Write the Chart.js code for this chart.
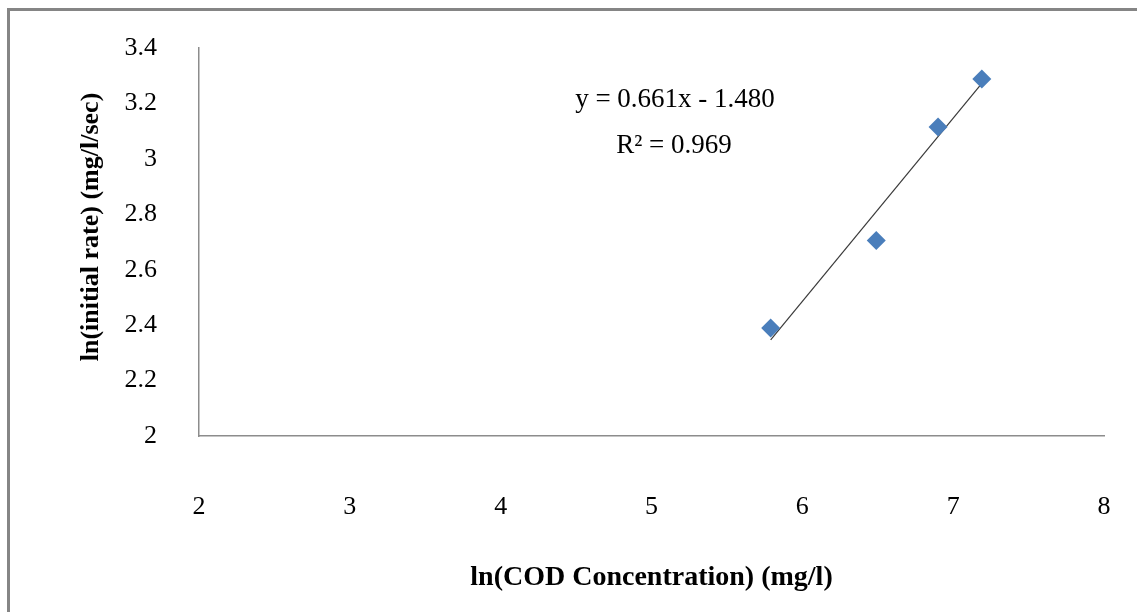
<!DOCTYPE html>
<html>
<head>
<meta charset="utf-8">
<script src="https://cdn.jsdelivr.net/npm/chart.js@4"></script>
<style>
  html, body { margin: 0; padding: 0; background: #ffffff; }
  #wrap { width: 1137px; height: 612px; position: relative; }
</style>
</head>
<body>
<div id="wrap"><canvas id="chart" width="1137" height="612"></canvas></div>
<script>
// Measured points: ln(COD concentration) vs ln(initial rate)
const lnCOD = [5.79, 6.49, 6.90, 7.19];
const lnRate = [2.39, 2.705, 3.115, 3.288];

// Linear fit reported on the chart
const fitSlope = 0.661;
const fitIntercept = -1.480;
const fitR2 = 0.969;

const xTicks = [2, 3, 4, 5, 6, 7, 8];
const yTicks = [2, 2.2, 2.4, 2.6, 2.8, 3, 3.2, 3.4];

const xTitle = 'ln(COD Concentration) (mg/l)';
const yTitle = 'ln(initial rate) (mg/l/sec)';

const points = lnCOD.map((x, i) => ({ x: x, y: lnRate[i] }));
const fitEnds = [lnCOD[0], lnCOD[lnCOD.length - 1]];
const fitLine = fitEnds.map(x => ({ x: x, y: fitSlope * x + fitIntercept }));

const eqText = 'y = ' + fitSlope.toFixed(3) + 'x - ' + Math.abs(fitIntercept).toFixed(3);
const r2Text = 'R\u00B2 = ' + fitR2.toFixed(3);

const serif = '"Liberation Serif", "Times New Roman", serif';
const fmt = v => String(Math.round(v * 10) / 10);

// Outer frame (top and left edges) plus white background
const framePlugin = {
  id: 'frame',
  beforeDraw(chart) {
    const ctx = chart.ctx;
    ctx.save();
    ctx.fillStyle = '#ffffff';
    ctx.fillRect(0, 0, chart.width, chart.height);
    ctx.strokeStyle = '#858585';
    ctx.lineWidth = 3;
    ctx.beginPath();
    ctx.moveTo(8.5, chart.height);
    ctx.lineTo(8.5, 9.5);
    ctx.lineTo(chart.width, 9.5);
    ctx.stroke();
    ctx.restore();
  }
};

// Regression equation text and the vertical axis title
const textPlugin = {
  id: 'texts',
  afterDatasetsDraw(chart) {
    const ctx = chart.ctx;
    ctx.save();
    ctx.fillStyle = '#000000';
    ctx.font = '27px ' + serif;
    ctx.textAlign = 'center';
    ctx.textBaseline = 'alphabetic';
    ctx.fillText(eqText, 675, 107);
    ctx.fillText(r2Text, 674, 153);

    ctx.translate(91, 227);
    ctx.rotate(-Math.PI / 2);
    ctx.font = 'bold 26px ' + serif;
    ctx.textBaseline = 'middle';
    ctx.fillText(yTitle, 0, 0);
    ctx.restore();
  }
};

new Chart(document.getElementById('chart'), {
  type: 'scatter',
  data: {
    datasets: [
      {
        label: 'data',
        data: points,
        pointStyle: 'rectRot',
        pointRadius: 9.5,
        pointHoverRadius: 9.5,
        backgroundColor: '#4a7ebb',
        borderColor: '#4a7ebb',
        borderWidth: 0,
        showLine: false,
        order: 1
      },
      {
        label: 'fit',
        data: fitLine,
        showLine: true,
        pointRadius: 0,
        borderColor: '#3a3a3a',
        borderWidth: 1.2,
        fill: false,
        order: 2
      }
    ]
  },
  options: {
    responsive: false,
    animation: false,
    devicePixelRatio: 1,
    layout: { padding: { top: 48, right: 33, left: 0, bottom: 0 } },
    plugins: {
      legend: { display: false },
      tooltip: { enabled: false }
    },
    scales: {
      x: {
        type: 'linear',
        min: 2,
        max: 8,
        afterBuildTicks(scale) { scale.ticks = xTicks.map(v => ({ value: v })); },
        afterFit(scale) { scale.height = 176; },
        grid: { display: false, drawTicks: true, tickLength: 56 },
        border: { display: true, color: '#8c8c8c', width: 1.5 },
        ticks: {
          padding: 0,
          color: '#000000',
          font: { family: serif, size: 26 },
          callback: v => fmt(v)
        },
        title: {
          display: true,
          text: xTitle,
          color: '#000000',
          font: { family: serif, size: 28, weight: 'bold' },
          padding: { top: 0, bottom: 17 }
        }
      },
      y: {
        type: 'linear',
        min: 2,
        max: 3.4,
        afterBuildTicks(scale) { scale.ticks = yTicks.map(v => ({ value: v })); },
        afterFit(scale) { scale.width = 199; },
        grid: { display: false, drawTicks: true, tickLength: 42 },
        border: { display: true, color: '#8c8c8c', width: 1.5 },
        ticks: {
          padding: 0,
          color: '#000000',
          font: { family: serif, size: 26 },
          callback: v => fmt(v)
        },
        title: { display: false }
      }
    }
  },
  plugins: [framePlugin, textPlugin]
});
</script>
</body>
</html>
